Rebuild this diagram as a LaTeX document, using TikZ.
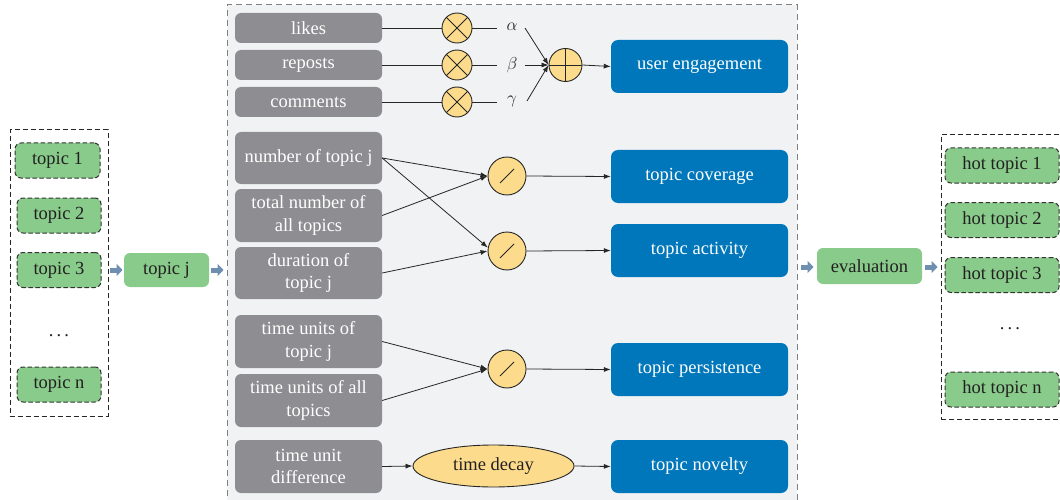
\documentclass[tikz,border=0pt]{standalone}
\usepackage{fontspec}
\setmainfont{Liberation Serif}
\usetikzlibrary{arrows.meta,shapes.geometric}
\definecolor{gboxc}{HTML}{8E8E92}
\definecolor{bboxc}{HTML}{0077BA}
\definecolor{gfillc}{HTML}{88CB8B}
\definecolor{opc}{HTML}{FCDC8C}
\definecolor{bgc}{HTML}{F1F2F4}
\definecolor{arrc}{HTML}{6E8FAF}
\definecolor{txtc}{HTML}{231F20}
\begin{document}
\begin{tikzpicture}[x=1pt,y=-1pt,
  font=\fontsize{18.5}{22.5}\selectfont,
  greybox/.style={rectangle, rounded corners=6pt, fill=gboxc, text=white, minimum width=147pt, align=center, inner sep=1pt},
  bluebox/.style={rectangle, rounded corners=7pt, fill=bboxc, text=white, minimum width=177pt, minimum height=53pt},
  greenbox/.style={rectangle, rounded corners=6pt, fill=gfillc, text=txtc, minimum height=35pt, inner sep=1pt},
  dgreen/.style={greenbox, draw=black!80, dash pattern=on 4.5pt off 2.5pt, line width=1pt},
  group/.style={rectangle, draw=black!85, dash pattern=on 5pt off 3pt, line width=1pt},
  opnode/.style={circle, draw=black!85, fill=opc, line width=0.9pt, inner sep=0pt},
  conn/.style={draw=black!85, line width=0.8pt},
  arr/.style={conn, -{Latex[length=7pt,width=5pt]}},
  blockarr/.style={draw=arrc, line width=5pt, -{Triangle[length=6pt,width=12pt]}},
  symb/.style={draw=black!85, line width=0.9pt}
]
\useasboundingbox (0,0) rectangle (1060,500);
\clip (0,0) rectangle (1060,500);

% big background box
\node[rectangle, fill=bgc, draw=black!50, dash pattern=on 6pt off 4pt, line width=1pt,
      minimum width=570pt, minimum height=505pt] (big) at (512,257.5) {};

% left group
\node[group, minimum width=98pt, minimum height=286pt] (lg) at (59,273) {};
\node[dgreen, minimum width=85pt] (t1) at (57.5,160.5) {topic 1};
\node[dgreen, minimum width=84pt] (t2) at (59,215.5) {topic 2};
\node[dgreen, minimum width=84pt] (t3) at (59,270) {topic 3};
\node[text=txtc] (ld) at (59,336) {.\,.\,.};
\node[dgreen, minimum width=84pt] (tn) at (59,384.5) {topic n};

\node[greenbox, minimum width=85pt, minimum height=34pt] (tj) at (166.5,270) {topic j};

% right group
\node[group, minimum width=129pt, minimum height=284pt] (rg) at (1005.5,277) {};
\node[dgreen, minimum width=114pt] (h1) at (1002,165.5) {hot topic 1};
\node[dgreen, minimum width=114pt] (h2) at (1002,220) {hot topic 2};
\node[dgreen, minimum width=114pt] (h3) at (1002,275) {hot topic 3};
\node[text=txtc] (rd) at (1010,329) {.\,.\,.};
\node[dgreen, minimum width=114pt] (hn) at (1002,389.5) {hot topic n};

\node[greenbox, minimum width=105pt, minimum height=36pt] (ev) at (869.5,266) {evaluation};

% block arrows
\coordinate (a1s) at (110,270); \coordinate (a1e) at (122.5,270);
\coordinate (a2s) at (211,270); \coordinate (a2e) at (223.5,270);
\coordinate (a3s) at (801,267); \coordinate (a3e) at (813.5,267);
\coordinate (a4s) at (925,267); \coordinate (a4e) at (937.5,267);
\draw[blockarr] (a1s) -- (a1e);
\draw[blockarr] (a2s) -- (a2e);
\draw[blockarr] (a3s) -- (a3e);
\draw[blockarr] (a4s) -- (a4e);

% grey input boxes
\node[greybox, minimum height=30pt] (likes) at (308.5,28) {likes};
\node[greybox, minimum height=30pt] (reposts) at (308.5,65) {reposts};
\node[greybox, minimum height=30pt] (comments) at (308.5,102) {comments};
\node[greybox, minimum height=52pt] (num) at (308.5,158) {number of topic j};
\node[greybox, minimum height=53pt] (tot) at (308.5,215.5) {total number of\\all topics};
\node[greybox, minimum height=52pt] (dur) at (308.5,273) {duration of\\topic j};
\node[greybox, minimum height=53pt] (tuj) at (308.5,341.5) {time units of\\topic j};
\node[greybox, minimum height=53pt] (tua) at (308.5,400.5) {time units of all\\topics};
\node[greybox, minimum height=53pt] (tud) at (308.5,466.5) {time unit\\difference};

% blue output boxes
\node[bluebox] (ue) at (699.5,66.5) {user engagement};
\node[bluebox] (tc) at (699.5,176.5) {topic coverage};
\node[bluebox] (ta) at (699.5,250.5) {topic activity};
\node[bluebox] (tp) at (699.5,369.5) {topic persistence};
\node[bluebox] (tnv) at (699.5,466.5) {topic novelty};

% multiply operators
\node[opnode, minimum size=30pt] (m1) at (457,28) {};
\node[opnode, minimum size=30pt] (m2) at (457,65) {};
\node[opnode, minimum size=30pt] (m3) at (457,102) {};
\foreach \m in {m1,m2,m3}{
  \draw[symb] (\m.north east) -- (\m.south west);
  \draw[symb] (\m.north west) -- (\m.south east);
}
\node[text=txtc] (al) at (512,27) {$\alpha$};
\node[text=txtc] (be) at (512,65) {$\beta$};
\node[text=txtc] (ga) at (512,101) {$\gamma$};
\coordinate (m1o) at (497,28);
\coordinate (m2o) at (497,65);
\coordinate (m3o) at (497,102);
\draw[conn] (likes.east) -- (m1.west);
\draw[conn] (reposts.east) -- (m2.west);
\draw[conn] (comments.east) -- (m3.west);
\draw[conn] (m1.east) -- (m1o);
\draw[conn] (m2.east) -- (m2o);
\draw[conn] (m3.east) -- (m3o);

% plus operator
\node[opnode, minimum size=33pt] (pl) at (565.5,65) {};
\draw[symb] (pl.north) -- (pl.south);
\draw[symb] (pl.west) -- (pl.east);
\coordinate (alo) at (525,28);
\coordinate (beo) at (525,65);
\coordinate (gao) at (527,101);
\draw[arr] (alo) -- (pl.west);
\draw[arr] (beo) -- (pl.west);
\draw[arr] (gao) -- (pl.west);
\draw[arr] (pl.east) -- (ue.west);

% division operators
\node[opnode, minimum size=38pt] (d1) at (507,176) {};
\node[opnode, minimum size=38pt] (d2) at (507,251) {};
\node[opnode, minimum size=38pt] (d3) at (507,369) {};
\foreach \d in {d1,d2,d3}{
  \draw[symb] ([shift={(-7,7)}]\d.center) -- ([shift={(7,-7)}]\d.center);
}
\draw[arr] (num.east) -- (d1.west);
\draw[arr] (num.east) -- (d2.170);
\draw[arr] (tot.east) -- (d1.west);
\draw[arr] (dur.east) -- (d2.west);
\draw[arr] (d1.east) -- (tc.west);
\draw[arr] (d2.east) -- (ta.west);
\draw[arr] (tuj.east) -- (d3.west);
\draw[arr] (tua.east) -- (d3.west);
\draw[arr] (d3.east) -- (tp.west);

% time decay
\node[ellipse, draw=black!85, fill=opc, line width=0.9pt, minimum width=161pt, minimum height=42pt, inner sep=0pt, text=txtc] (td) at (493.5,466) {time decay};
\draw[arr] (tud.east) -- (td.west);
\draw[arr] (td.east) -- (tnv.west);
\end{tikzpicture}
\end{document}
